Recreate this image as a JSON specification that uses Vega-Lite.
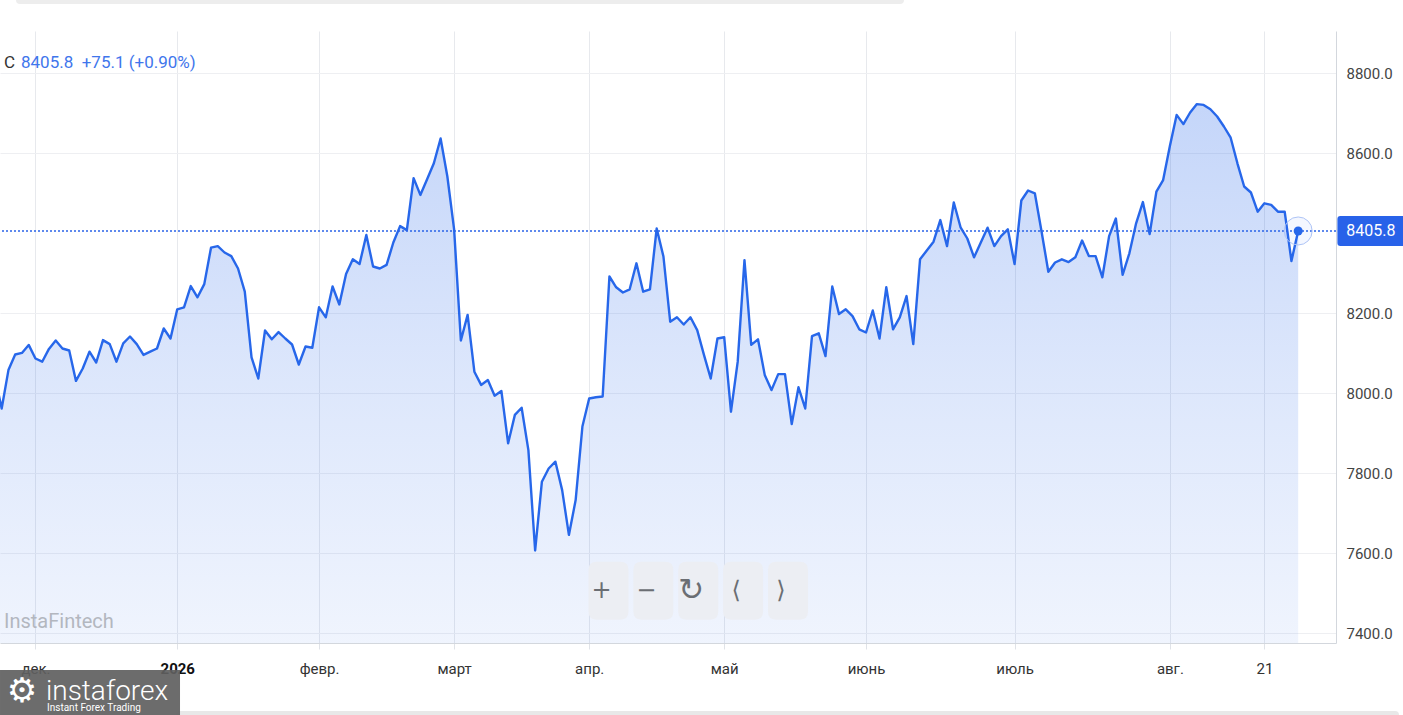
{
  "$schema": "https://vega.github.io/schema/vega-lite/v6.json",
  "width": 1336,
  "height": 612,
  "autosize": {"type": "none"},
  "padding": {"left": 0, "top": 31, "right": 67, "bottom": 72},
  "background": "#ffffff",
  "config": {"view": {"stroke": null}, "font": "Roboto"},
  "datasets": {
    "prices": [
      {"day": -1, "close": 8040}, {"day": 0, "close": 7962}, {"day": 1, "close": 8058}, {"day": 2, "close": 8097},
      {"day": 3, "close": 8101}, {"day": 4, "close": 8121}, {"day": 5, "close": 8087}, {"day": 6, "close": 8079},
      {"day": 7, "close": 8111}, {"day": 8, "close": 8132}, {"day": 9, "close": 8112}, {"day": 10, "close": 8107},
      {"day": 11, "close": 8031}, {"day": 12, "close": 8062}, {"day": 13, "close": 8104}, {"day": 14, "close": 8077},
      {"day": 15, "close": 8133}, {"day": 16, "close": 8123}, {"day": 17, "close": 8079}, {"day": 18, "close": 8125},
      {"day": 19, "close": 8142}, {"day": 20, "close": 8123}, {"day": 21, "close": 8096}, {"day": 22, "close": 8104},
      {"day": 23, "close": 8112}, {"day": 24, "close": 8162}, {"day": 25, "close": 8137}, {"day": 26, "close": 8210},
      {"day": 27, "close": 8215}, {"day": 28, "close": 8268}, {"day": 29, "close": 8240}, {"day": 30, "close": 8273},
      {"day": 31, "close": 8364}, {"day": 32, "close": 8368}, {"day": 33, "close": 8352}, {"day": 34, "close": 8343},
      {"day": 35, "close": 8312}, {"day": 36, "close": 8254}, {"day": 37, "close": 8090}, {"day": 38, "close": 8037},
      {"day": 39, "close": 8157}, {"day": 40, "close": 8135}, {"day": 41, "close": 8153}, {"day": 42, "close": 8137},
      {"day": 43, "close": 8122}, {"day": 44, "close": 8072}, {"day": 45, "close": 8117}, {"day": 46, "close": 8114},
      {"day": 47, "close": 8215}, {"day": 48, "close": 8190}, {"day": 49, "close": 8267}, {"day": 50, "close": 8222},
      {"day": 51, "close": 8298}, {"day": 52, "close": 8335}, {"day": 53, "close": 8323}, {"day": 54, "close": 8396},
      {"day": 55, "close": 8317}, {"day": 56, "close": 8312}, {"day": 57, "close": 8321}, {"day": 58, "close": 8377},
      {"day": 59, "close": 8418}, {"day": 60, "close": 8408}, {"day": 61, "close": 8538}, {"day": 62, "close": 8496},
      {"day": 63, "close": 8535}, {"day": 64, "close": 8575}, {"day": 65, "close": 8637}, {"day": 66, "close": 8542},
      {"day": 67, "close": 8410}, {"day": 68, "close": 8132}, {"day": 69, "close": 8196}, {"day": 70, "close": 8054},
      {"day": 71, "close": 8021}, {"day": 72, "close": 8033}, {"day": 73, "close": 7994}, {"day": 74, "close": 8006},
      {"day": 75, "close": 7875}, {"day": 76, "close": 7946}, {"day": 77, "close": 7964}, {"day": 78, "close": 7858},
      {"day": 79, "close": 7607}, {"day": 80, "close": 7779}, {"day": 81, "close": 7812}, {"day": 82, "close": 7829},
      {"day": 83, "close": 7758}, {"day": 84, "close": 7646}, {"day": 85, "close": 7733}, {"day": 86, "close": 7917},
      {"day": 87, "close": 7987}, {"day": 88, "close": 7990}, {"day": 89, "close": 7992}, {"day": 90, "close": 8292},
      {"day": 91, "close": 8265}, {"day": 92, "close": 8252}, {"day": 93, "close": 8260}, {"day": 94, "close": 8325},
      {"day": 95, "close": 8254}, {"day": 96, "close": 8260}, {"day": 97, "close": 8412}, {"day": 98, "close": 8342},
      {"day": 99, "close": 8179}, {"day": 100, "close": 8190}, {"day": 101, "close": 8172}, {"day": 102, "close": 8190},
      {"day": 103, "close": 8158}, {"day": 104, "close": 8096}, {"day": 105, "close": 8037}, {"day": 106, "close": 8137},
      {"day": 107, "close": 8140}, {"day": 108, "close": 7954}, {"day": 109, "close": 8079}, {"day": 110, "close": 8333},
      {"day": 111, "close": 8121}, {"day": 112, "close": 8135}, {"day": 113, "close": 8046}, {"day": 114, "close": 8008},
      {"day": 115, "close": 8048}, {"day": 116, "close": 8048}, {"day": 117, "close": 7923}, {"day": 118, "close": 8015},
      {"day": 119, "close": 7962}, {"day": 120, "close": 8143}, {"day": 121, "close": 8150}, {"day": 122, "close": 8093},
      {"day": 123, "close": 8267}, {"day": 124, "close": 8198}, {"day": 125, "close": 8210}, {"day": 126, "close": 8193},
      {"day": 127, "close": 8160}, {"day": 128, "close": 8152}, {"day": 129, "close": 8207}, {"day": 130, "close": 8137},
      {"day": 131, "close": 8265}, {"day": 132, "close": 8160}, {"day": 133, "close": 8190}, {"day": 134, "close": 8243},
      {"day": 135, "close": 8123}, {"day": 136, "close": 8335}, {"day": 137, "close": 8357}, {"day": 138, "close": 8379},
      {"day": 139, "close": 8433}, {"day": 140, "close": 8368}, {"day": 141, "close": 8477}, {"day": 142, "close": 8415},
      {"day": 143, "close": 8387}, {"day": 144, "close": 8340}, {"day": 145, "close": 8377}, {"day": 146, "close": 8414},
      {"day": 147, "close": 8368}, {"day": 148, "close": 8393}, {"day": 149, "close": 8410}, {"day": 150, "close": 8323},
      {"day": 151, "close": 8482}, {"day": 152, "close": 8507}, {"day": 153, "close": 8500}, {"day": 154, "close": 8404},
      {"day": 155, "close": 8304}, {"day": 156, "close": 8327}, {"day": 157, "close": 8335}, {"day": 158, "close": 8328},
      {"day": 159, "close": 8340}, {"day": 160, "close": 8382}, {"day": 161, "close": 8343}, {"day": 162, "close": 8343},
      {"day": 163, "close": 8290}, {"day": 164, "close": 8393}, {"day": 165, "close": 8437}, {"day": 166, "close": 8296},
      {"day": 167, "close": 8350}, {"day": 168, "close": 8425}, {"day": 169, "close": 8478}, {"day": 170, "close": 8398},
      {"day": 171, "close": 8504}, {"day": 172, "close": 8533}, {"day": 173, "close": 8618}, {"day": 174, "close": 8696},
      {"day": 175, "close": 8673}, {"day": 176, "close": 8702}, {"day": 177, "close": 8723}, {"day": 178, "close": 8721},
      {"day": 179, "close": 8710}, {"day": 180, "close": 8692}, {"day": 181, "close": 8667}, {"day": 182, "close": 8639},
      {"day": 183, "close": 8575}, {"day": 184, "close": 8517}, {"day": 185, "close": 8502}, {"day": 186, "close": 8454},
      {"day": 187, "close": 8475}, {"day": 188, "close": 8471}, {"day": 189, "close": 8454}, {"day": 190, "close": 8454},
      {"day": 191, "close": 8330.7}, {"day": 192, "close": 8405.8}
    ],
    "quote": [{"close": 8405.8, "change": 75.1, "pct": 0.90}],
    "controls": [{"glyph": "+"}, {"glyph": "−"}, {"glyph": "↻"}, {"glyph": "⟨"}, {"glyph": "⟩"}]
  },
  "layer": [
    {
      "data": {"name": "prices"},
      "mark": {
        "type": "area",
        "line": false,
        "color": {
          "gradient": "linear", "x1": 0, "x2": 0, "y1": 0, "y2": 1,
          "stops": [
            {"offset": 0, "color": "rgba(39,103,234,0.27)"},
            {"offset": 0.5, "color": "rgba(39,103,234,0.16)"},
            {"offset": 1, "color": "rgba(39,103,234,0.07)"}
          ]
        }
      },
      "encoding": {
        "x": {
          "field": "day",
          "type": "quantitative",
          "scale": {"domain": [-0.25, 197.6], "nice": false, "zero": false},
          "axis": {
            "title": null,
            "values": [5, 26, 47, 67, 87, 107, 128, 150, 173, 187],
            "labelExpr": "['дек.','2026','февр.','март','апр.','май','июнь','июль','авг.','21'][indexof([5,26,47,67,87,107,128,150,173,187], datum.value)]",
            "grid": true,
            "gridColor": "#e7e9ed",
            "domainColor": "#d3d7dd",
            "tickColor": "#e0e3e8",
            "tickSize": 6,
            "labelFont": "Roboto",
            "labelFontSize": 15,
            "labelColor": {"expr": "datum.value == 26 ? '#111111' : '#333333'"},
            "labelFontWeight": {"expr": "datum.value == 26 ? 'bold' : 'normal'"},
            "labelPadding": 12,
            "labelFlush": false,
            "labelOverlap": false
          }
        },
        "y": {
          "field": "close",
          "type": "quantitative",
          "scale": {"domain": [7375.75, 8905.75], "nice": false, "zero": false},
          "axis": {
            "title": null,
            "orient": "right",
            "values": [7400, 7600, 7800, 8000, 8200, 8600, 8800],
            "format": ".1f",
            "grid": true,
            "gridColor": "#eeeff2",
            "domainColor": "#d3d7dd",
            "ticks": false,
            "tickSize": 0,
            "labelPadding": 10,
            "labelFont": "Roboto",
            "labelFontSize": 15,
            "labelColor": "#444444"
          }
        },
        "y2": {"datum": 7375.75}
      }
    },
    {
      "data": {"name": "prices"},
      "mark": {"type": "line", "color": "#2767ea", "strokeWidth": 2.4, "strokeJoin": "round"},
      "encoding": {
        "x": {"field": "day", "type": "quantitative"},
        "y": {"field": "close", "type": "quantitative"}
      }
    },
    {
      "data": {"name": "prices"},
      "transform": [{"filter": "datum.day == 192"}],
      "mark": {"type": "rule", "color": "#2a63e8", "strokeWidth": 1.5, "strokeDash": [2, 2]},
      "encoding": {
        "y": {"field": "close", "type": "quantitative"}
      }
    },
    {
      "data": {"name": "prices"},
      "transform": [{"filter": "datum.day == 192"}],
      "mark": {"type": "point", "shape": "circle", "size": 784, "filled": true, "fill": "#2962ff", "fillOpacity": 0.05, "opacity": 1, "stroke": "#aec4f6", "strokeWidth": 1},
      "encoding": {
        "x": {"field": "day", "type": "quantitative"},
        "y": {"field": "close", "type": "quantitative"}
      }
    },
    {
      "data": {"name": "prices"},
      "transform": [{"filter": "datum.day == 192"}],
      "mark": {"type": "point", "shape": "circle", "size": 81, "filled": true, "color": "#2767ea", "opacity": 1},
      "encoding": {
        "x": {"field": "day", "type": "quantitative"},
        "y": {"field": "close", "type": "quantitative"}
      }
    },
    {
      "data": {"name": "prices"},
      "transform": [{"filter": "datum.day == 192"}],
      "mark": {
        "type": "point",
        "shape": "M1.407,-0.5 H3.5 Q3.6,-0.5 3.6,-0.4 V0.4 Q3.6,0.5 3.5,0.5 H1.407 Q1.307,0.5 1.307,0.4 V-0.4 Q1.307,-0.5 1.407,-0.5 Z",
        "size": 3600,
        "filled": true,
        "color": "#2862e9",
        "opacity": 1,
        "strokeWidth": 0
      },
      "encoding": {
        "x": {"field": "day", "type": "quantitative"},
        "y": {"field": "close", "type": "quantitative"}
      }
    },
    {
      "data": {"name": "prices"},
      "transform": [{"filter": "datum.day == 192"}],
      "mark": {"type": "text", "dx": 72.7, "align": "center", "baseline": "middle", "font": "Roboto", "fontSize": 16, "color": "#ffffff"},
      "encoding": {
        "x": {"field": "day", "type": "quantitative"},
        "y": {"field": "close", "type": "quantitative"},
        "text": {"field": "close", "format": ".1f"}
      }
    },
    {
      "data": {"name": "quote"},
      "mark": {"type": "text", "align": "left", "baseline": "alphabetic", "dx": 4, "font": "Roboto", "fontSize": 17, "color": "#333333"},
      "encoding": {
        "x": {"datum": -0.25, "type": "quantitative", "title": null},
        "y": {"datum": 8812.5, "type": "quantitative", "title": null},
        "text": {"value": "C"}
      }
    },
    {
      "data": {"name": "quote"},
      "transform": [
        {"calculate": "format(datum.close, '.1f') + '\u00a0\u00a0' + (datum.change >= 0 ? '+' : '') + format(datum.change, '.1f') + ' (' + (datum.pct >= 0 ? '+' : '') + format(datum.pct, '.2f') + '%)'", "as": "label"}
      ],
      "mark": {"type": "text", "align": "left", "baseline": "alphabetic", "dx": 21, "font": "Roboto", "fontSize": 17, "color": "#3f76ec"},
      "encoding": {
        "x": {"datum": -0.25, "type": "quantitative", "title": null},
        "y": {"datum": 8812.5, "type": "quantitative", "title": null},
        "text": {"field": "label"}
      }
    },
    {
      "data": {"values": [{"label": "InstaFintech"}]},
      "mark": {"type": "text", "align": "left", "baseline": "alphabetic", "dx": 4, "font": "Roboto", "fontSize": 20, "color": "#b3b7bf"},
      "encoding": {
        "x": {"datum": -0.25, "type": "quantitative", "title": null},
        "y": {"datum": 7414.5, "type": "quantitative", "title": null},
        "text": {"field": "label"}
      }
    },
    {
      "data": {"name": "controls"},
      "mark": {
        "type": "point",
        "shape": "M-0.41,-1 H0.41 Q0.69,-1 0.69,-0.72 V0.72 Q0.69,1 0.41,1 H-0.41 Q-0.69,1 -0.69,0.72 V-0.72 Q-0.69,-1 -0.41,-1 Z",
        "size": 3364,
        "filled": true,
        "color": "#eceef3",
        "opacity": 1,
        "strokeWidth": 0
      },
      "encoding": {
        "x": {"datum": 89.86, "type": "quantitative", "title": null},
        "xOffset": {"field": "glyph", "type": "nominal", "scale": {"type": "point", "domain": ["+", "−", "↻", "⟨", "⟩"], "range": [0, 179.5], "padding": 0}, "title": null},
        "y": {"datum": 7506.5, "type": "quantitative", "title": null}
      }
    },
    {
      "data": {"name": "controls"},
      "mark": {"type": "text", "align": "center", "baseline": "middle", "dx": -7, "font": "DejaVu Sans", "fontWeight": "normal", "color": "#6b6e73"},
      "encoding": {
        "x": {"datum": 89.86, "type": "quantitative", "title": null},
        "xOffset": {"field": "glyph", "type": "nominal", "scale": {"type": "point", "domain": ["+", "−", "↻", "⟨", "⟩"], "range": [0, 179.5], "padding": 0}, "title": null},
        "y": {"datum": 7506.5, "type": "quantitative", "title": null},
        "text": {"field": "glyph"},
        "size": {"condition": {"test": "datum.glyph == '↻'", "value": 31}, "value": 24}
      }
    },
    {
      "data": {"values": [{}]},
      "mark": {"type": "rule", "color": "#ededed", "strokeWidth": 8, "strokeCap": "round"},
      "encoding": {
        "x": {"datum": 2.71, "type": "quantitative", "title": null},
        "x2": {"datum": 133.03},
        "y": {"datum": 8983.25, "type": "quantitative", "title": null}
      }
    },
    {
      "data": {"values": [{}]},
      "mark": {"type": "rule", "color": "#e8e8e8", "strokeWidth": 8, "strokeCap": "round"},
      "encoding": {
        "x": {"datum": 26.41, "type": "quantitative", "title": null},
        "x2": {"datum": 206.34},
        "y": {"datum": 7195.75, "type": "quantitative", "title": null}
      }
    },
    {
      "data": {"values": [{}]},
      "mark": {"type": "point", "shape": "M-1,-0.25H1V0.25H-1Z", "size": 32400, "filled": true, "color": "#5f5f5f", "opacity": 0.92, "strokeWidth": 0},
      "encoding": {
        "x": {"datum": 13.08, "type": "quantitative", "title": null},
        "y": {"datum": 7252, "type": "quantitative", "title": null}
      }
    },
    {
      "data": {"values": [{"label": "⚙"}]},
      "mark": {"type": "text", "align": "center", "baseline": "middle", "font": "DejaVu Sans", "fontSize": 34, "color": "#ffffff"},
      "encoding": {
        "x": {"datum": 3.01, "type": "quantitative", "title": null},
        "y": {"datum": 7253, "type": "quantitative", "title": null},
        "text": {"field": "label"}
      }
    },
    {
      "data": {"values": [{"label": "instaforex"}]},
      "mark": {"type": "text", "align": "left", "baseline": "alphabetic", "font": "Roboto", "fontSize": 28, "fontWeight": 300, "color": "#ffffff"},
      "encoding": {
        "x": {"datum": 6.56, "type": "quantitative", "title": null},
        "y": {"datum": 7234, "type": "quantitative", "title": null},
        "text": {"field": "label"}
      }
    },
    {
      "data": {"values": [{"label": "Instant Forex Trading"}]},
      "mark": {"type": "text", "align": "left", "baseline": "alphabetic", "font": "Roboto", "fontSize": 10, "color": "#ffffff"},
      "encoding": {
        "x": {"datum": 6.71, "type": "quantitative", "title": null},
        "y": {"datum": 7205, "type": "quantitative", "title": null},
        "text": {"field": "label"}
      }
    }
  ]
}
